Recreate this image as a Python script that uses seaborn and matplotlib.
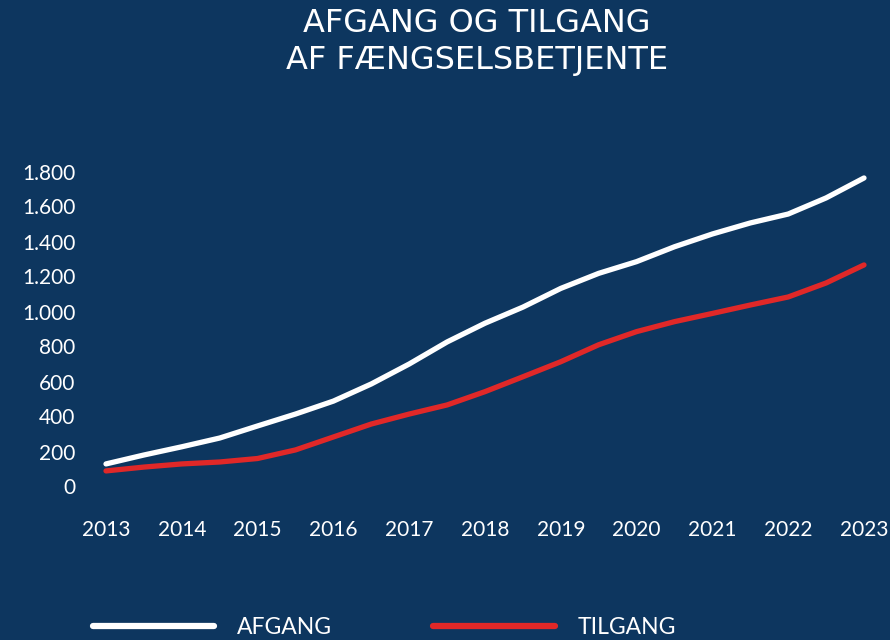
import matplotlib
matplotlib.use("Agg")
import matplotlib.pyplot as plt
import seaborn as sns
import pandas as pd

# Data (half-year steps)
years = [2013 + i * 0.5 for i in range(21)]
afgang = [129, 180, 227, 277, 346, 414, 488, 586, 700, 826, 933,
          1025, 1132, 1218, 1285, 1370, 1443, 1506, 1557, 1649, 1763]
tilgang = [89, 111, 129, 140, 160, 209, 283, 357, 414, 466, 542,
           627, 713, 810, 885, 942, 989, 1037, 1083, 1163, 1266]
tick_years = list(range(2013, 2024))
y_ticks = [0, 200, 400, 600, 800, 1000, 1200, 1400, 1600, 1800]
title_lines = ["AFGANG OG TILGANG", "AF FÆNGSELSBETJENTE"]

BG = "#0d365f"
RED = "#e02828"

df = pd.concat([
    pd.DataFrame({"år": years, "antal": afgang, "serie": "AFGANG"}),
    pd.DataFrame({"år": years, "antal": tilgang, "serie": "TILGANG"}),
])

sns.set_style("white")
plt.rcParams["font.family"] = ["Lato", "DejaVu Sans"]

fig = plt.figure(figsize=(8.9, 6.4), dpi=100, facecolor=BG)
ax = fig.add_axes([106 / 890, 153.5 / 640, (864 - 106) / 890, 315 / 640])
ax.set_facecolor(BG)

sns.lineplot(data=df, x="år", y="antal", hue="serie",
             palette={"AFGANG": "white", "TILGANG": RED},
             linewidth=3.8, solid_capstyle="round", solid_joinstyle="round",
             ax=ax, legend=True)
for ln in ax.lines:
    ln.set_clip_on(False)

ax.set_xlim(2013, 2023)
ax.set_ylim(0, 1800)
ax.set_xticks(tick_years)
ax.set_xticklabels([str(y) for y in tick_years])
ax.set_yticks(y_ticks)
ax.set_yticklabels([f"{v:,}".replace(",", ".") for v in y_ticks])
ax.tick_params(axis="both", length=0, colors="white", labelsize=15)
ax.tick_params(axis="y", pad=22)
ax.tick_params(axis="x", pad=24)
ax.set_xlabel("")
ax.set_ylabel("")
sns.despine(ax=ax, left=True, bottom=True)
ax.grid(False)

handles, labels = ax.get_legend_handles_labels()
ax.get_legend().remove()
leg = fig.legend(handles, labels, loc="center left",
                 bbox_to_anchor=(93 / 890, 12 / 640), ncol=2, frameon=False,
                 fontsize=16.5, handlelength=5.3, handletextpad=1.0,
                 columnspacing=4.4, borderpad=0, borderaxespad=0)
for t in leg.get_texts():
    t.set_color("white")
for h in leg.get_lines():
    h.set_linewidth(4.5)
    h.set_solid_capstyle("round")

for i, line in enumerate(title_lines):
    fig.text(477 / 890, 1 - (23 + 38 * i) / 640, line, ha="center",
             va="center", color="white", fontsize=23, family="DejaVu Sans")

fig.savefig("out.png", dpi=100, facecolor=BG)
